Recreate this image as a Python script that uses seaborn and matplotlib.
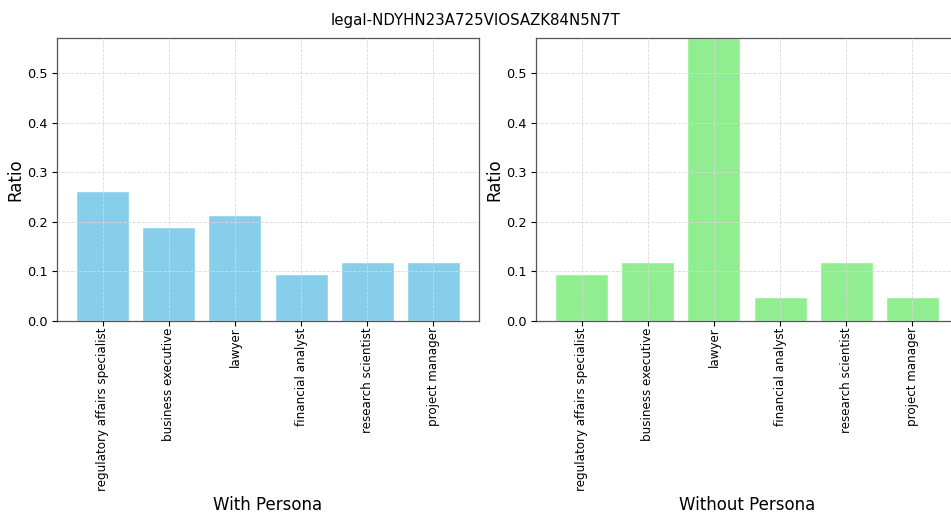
import matplotlib
matplotlib.use("Agg")
import matplotlib.pyplot as plt
import seaborn as sns
import pandas as pd

title = "legal-NDYHN23A725VIOSAZK84N5N7T"
categories = ["regulatory affairs specialist", "business executive", "lawyer",
              "financial analyst", "research scientist", "project manager"]
with_persona = [11/42, 8/42, 9/42, 4/42, 5/42, 5/42]
without_persona = [4/42, 5/42, 24/42, 2/42, 5/42, 2/42]
panel_labels = ["With Persona", "Without Persona"]
colors = ["skyblue", "lightgreen"]

sns.set_style("white")
plt.rcParams['font.family'] = ['DejaVu Sans']
plt.rcParams['text.color'] = 'black'
plt.rcParams['axes.labelcolor'] = 'black'
plt.rcParams['xtick.color'] = 'black'
plt.rcParams['ytick.color'] = 'black'

fig = plt.figure(figsize=(9.51, 5.15), dpi=100)
w = 422 / 951
h = 283 / 515
b = (515 - 321) / 515
axes = [fig.add_axes([57 / 951, b, w, h]), fig.add_axes([536 / 951, b, w, h])]
ymax = max(max(with_persona), max(without_persona))

for ax, vals, lab, col in zip(axes, [with_persona, without_persona], panel_labels, colors):
    df = pd.DataFrame({"cat": categories, "val": vals})
    sns.barplot(data=df, x="cat", y="val", color=col, saturation=1, width=0.8, ax=ax)
    ax.set_xlim(-0.69, 5.69)
    ax.set_ylim(0, ymax)
    ax.set_xlabel(lab, fontsize=12, labelpad=4)
    ax.set_ylabel("Ratio", fontsize=12, labelpad=1.5)
    ax.grid(True, linestyle="--", linewidth=0.6, color="#d9d9d9")
    ax.set_axisbelow(False)
    ax.tick_params(axis="x", rotation=90, labelsize=8.6, length=3.5, pad=1, bottom=True, colors="black")
    ax.tick_params(axis="y", labelsize=9.3, length=3.5, left=True, colors="black")
    for s in ax.spines.values():
        s.set_visible(True)
        s.set_color("#555555")
        s.set_linewidth(0.9)

fig.suptitle(title, fontsize=10.8, y=0.975, color="black")
fig.savefig("out.png", dpi=100)
